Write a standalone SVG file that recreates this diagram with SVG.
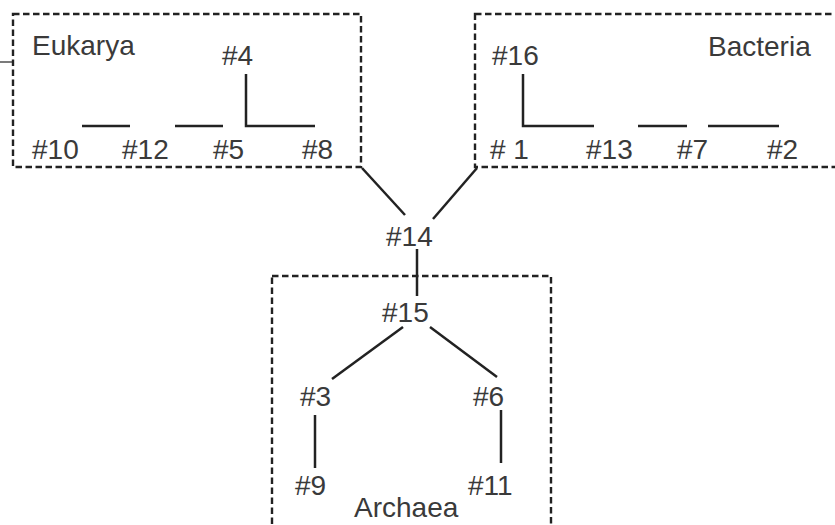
<svg xmlns="http://www.w3.org/2000/svg" width="835" height="525" viewBox="0 0 835 525">
<style>
text{font-family:"Liberation Sans",Arial,sans-serif;font-size:28px;fill:#3a3a3a}
.box{fill:none;stroke:#222;stroke-width:2.4;stroke-dasharray:6.5,3.5}
.c{stroke:#222;stroke-width:2.5;fill:none}
</style>
<rect width="835" height="525" fill="#fff"/>
<g id="eukarya">
<rect class="box" x="13" y="14" width="348" height="153"/>
<line x1="0" y1="62" x2="13" y2="62" stroke="#222" stroke-width="1.2"/>
<text x="32" y="55">Eukarya</text>
</g>
<g id="bacteria">
<rect class="box" x="475" y="14" width="370" height="153"/>
<text x="708" y="56">Bacteria</text>
</g>
<g id="archaea">
<rect class="box" x="272" y="276" width="279" height="260"/>
<text x="354" y="517">Archaea</text>
</g>
<g id="n4"><text x="222" y="65">#4</text></g>
<g id="n10"><text x="32" y="159">#10</text></g>
<g id="n12"><text x="122" y="159">#12</text></g>
<g id="n5"><text x="213" y="159">#5</text></g>
<g id="n8"><text x="302" y="159">#8</text></g>
<g id="n16"><text x="492" y="65">#16</text></g>
<g id="n1"><text x="490" y="159"># 1</text></g>
<g id="n13"><text x="586" y="159">#13</text></g>
<g id="n7"><text x="677" y="159">#7</text></g>
<g id="n2"><text x="767" y="159">#2</text></g>
<g id="n14"><text x="386" y="246">#14</text></g>
<g id="n15"><text x="382" y="322">#15</text></g>
<g id="n3"><text x="300" y="406">#3</text></g>
<g id="n6"><text x="473" y="406">#6</text></g>
<g id="n9"><text x="295" y="495">#9</text></g>
<g id="n11"><text x="468" y="495">#11</text></g>
<g id="connectors">
<polyline class="c" points="246,74 246,126 315,126"/>
<line class="c" x1="82" y1="126" x2="130" y2="126"/>
<line class="c" x1="175" y1="126" x2="223" y2="126"/>
<polyline class="c" points="523,74 523,126 594,126"/>
<line class="c" x1="638" y1="126" x2="687" y2="126"/>
<line class="c" x1="708" y1="126" x2="779" y2="126"/>
<line class="c" x1="362" y1="168" x2="405" y2="215"/>
<line class="c" x1="477" y1="168" x2="433" y2="219"/>
<line class="c" x1="417" y1="249" x2="417" y2="296"/>
<line class="c" x1="403" y1="327" x2="332" y2="379"/>
<line class="c" x1="430" y1="327" x2="497" y2="377"/>
<line class="c" x1="315" y1="415" x2="315" y2="468"/>
<line class="c" x1="501" y1="410" x2="501" y2="463"/>
</g>
</svg>
